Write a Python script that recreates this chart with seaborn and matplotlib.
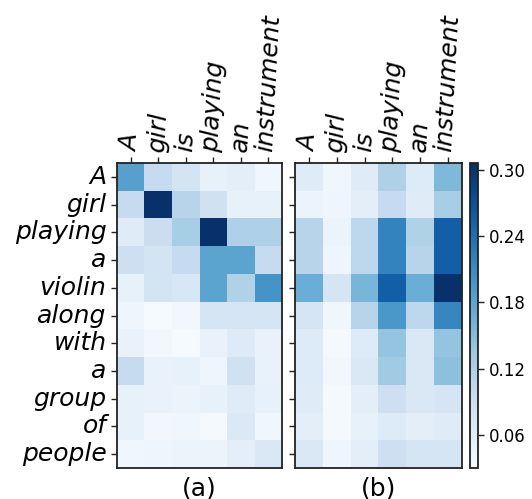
import numpy as np
import pandas as pd
import matplotlib
matplotlib.use("Agg")
import matplotlib.pyplot as plt
import seaborn as sns

src_words = ["A", "girl", "is", "playing", "an", "instrument"]
tgt_words = ["A", "girl", "playing", "a", "violin", "along", "with", "a",
             "group", "of", "people"]

attn_a = [
    [0.185, 0.100, 0.080, 0.052, 0.058, 0.040],
    [0.100, 0.305, 0.113, 0.085, 0.052, 0.052],
    [0.063, 0.093, 0.127, 0.305, 0.120, 0.120],
    [0.090, 0.080, 0.100, 0.180, 0.180, 0.100],
    [0.052, 0.080, 0.074, 0.180, 0.118, 0.200],
    [0.044, 0.033, 0.038, 0.077, 0.077, 0.077],
    [0.050, 0.038, 0.033, 0.050, 0.066, 0.050],
    [0.100, 0.050, 0.052, 0.044, 0.085, 0.050],
    [0.052, 0.050, 0.047, 0.052, 0.063, 0.052],
    [0.052, 0.038, 0.041, 0.035, 0.069, 0.041],
    [0.041, 0.044, 0.047, 0.047, 0.058, 0.070],
]

attn_b = [
    [0.063, 0.041, 0.063, 0.120, 0.066, 0.154],
    [0.047, 0.044, 0.058, 0.100, 0.063, 0.127],
    [0.113, 0.047, 0.107, 0.218, 0.118, 0.256],
    [0.113, 0.044, 0.107, 0.218, 0.113, 0.256],
    [0.168, 0.077, 0.160, 0.256, 0.168, 0.306],
    [0.077, 0.041, 0.113, 0.196, 0.107, 0.215],
    [0.066, 0.035, 0.066, 0.140, 0.070, 0.140],
    [0.066, 0.038, 0.070, 0.132, 0.070, 0.146],
    [0.063, 0.035, 0.058, 0.090, 0.070, 0.077],
    [0.058, 0.035, 0.052, 0.066, 0.058, 0.063],
    [0.070, 0.044, 0.058, 0.090, 0.077, 0.077],
]

cbar_ticks = [0.06, 0.12, 0.18, 0.24, 0.30]
panel_labels = ["(a)", "(b)"]

plt.rcParams['font.family'] = ['DejaVu Sans']

fig = plt.figure(figsize=(5.32, 4.99), dpi=100)
ax1 = fig.add_axes([0.2199, 0.0621, 0.3102, 0.6112])
ax2 = fig.add_axes([0.5545, 0.0621, 0.3139, 0.6112])
cax = fig.add_axes([0.8835, 0.0621, 0.0150, 0.6112])

vmin, vmax = 0.030, 0.306
df_a = pd.DataFrame(attn_a, index=tgt_words, columns=src_words)
df_b = pd.DataFrame(attn_b, index=tgt_words, columns=src_words)

sns.heatmap(df_a, ax=ax1, cmap="Blues", vmin=vmin, vmax=vmax, cbar=False,
            xticklabels=src_words, yticklabels=tgt_words)
sns.heatmap(df_b, ax=ax2, cmap="Blues", vmin=vmin, vmax=vmax, cbar=True,
            cbar_ax=cax, xticklabels=src_words, yticklabels=False,
            cbar_kws={"ticks": cbar_ticks, "format": "%.2f"})

for ax, lab in zip([ax1, ax2], panel_labels):
    ax.xaxis.tick_top()
    ax.tick_params(axis='x', which='both', top=True, bottom=False,
                   length=4, width=1, color='#222222', labelsize=18)
    ax.tick_params(axis='y', which='both', left=True, length=4, width=1,
                   color='#222222', labelsize=18)
    for t in ax.get_xticklabels():
        t.set_rotation(87)
        t.set_fontstyle('italic')
        t.set_ha('center')
        t.set_va('bottom')
    for s in ax.spines.values():
        s.set_visible(True)
        s.set_linewidth(1.3)
        s.set_color('#222222')
    ax.set_xlabel(lab, fontsize=18, labelpad=6)
    ax.set_ylabel("")

ax2.set_yticks(np.arange(len(tgt_words)) + 0.5)
ax2.set_yticklabels([])

for t in ax1.get_yticklabels():
    t.set_rotation(0)
    t.set_fontstyle('italic')

cax.tick_params(labelsize=12, length=4, width=1, color='#222222')
cb = ax2.collections[0].colorbar
cb.outline.set_visible(True)
cb.outline.set_linewidth(1.3)
cb.outline.set_edgecolor('#222222')

fig.savefig("out.png", dpi=100)
